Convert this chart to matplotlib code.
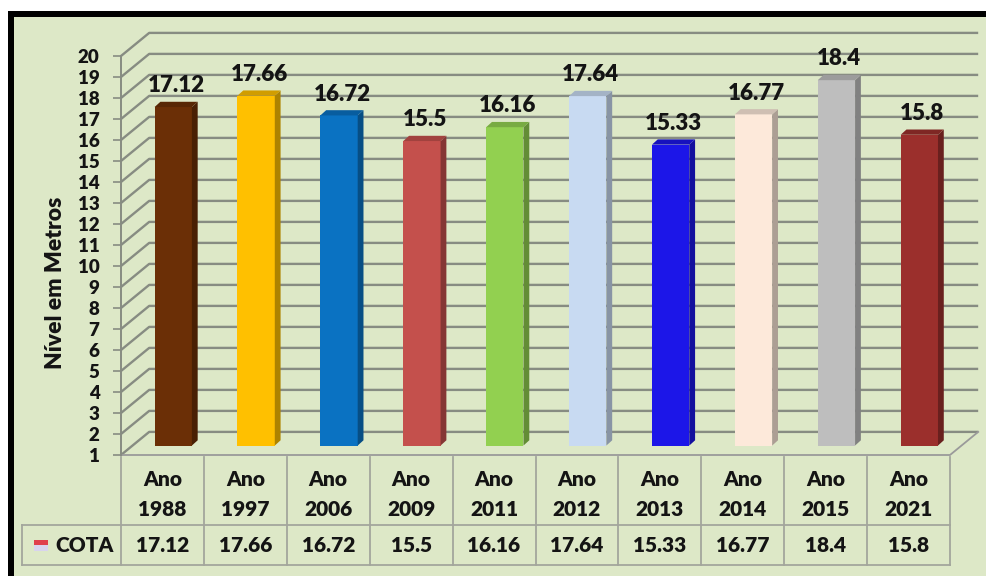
import matplotlib
matplotlib.use("Agg")
import matplotlib.pyplot as plt
from matplotlib.patches import Polygon, Rectangle
from matplotlib.transforms import blended_transform_factory
import matplotlib.colors as mcolors

# --- data ---
years = ["1988", "1997", "2006", "2009", "2011", "2012", "2013", "2014", "2015", "2021"]
values = [17.12, 17.66, 16.72, 15.5, 16.16, 17.64, 15.33, 16.77, 18.4, 15.8]
value_labels = ["17.12", "17.66", "16.72", "15.5", "16.16", "17.64", "15.33", "16.77", "18.4", "15.8"]
bar_colors = ["#6b2f06", "#ffc000", "#0a72c2", "#c4504c", "#92d050",
              "#c8daf2", "#1c16e8", "#fde9da", "#bebebe", "#9b2f2c"]
yticks = list(range(1, 21))
series_name = "COTA"
ylabel = "Nível em Metros"

# --- styling / geometry (pixels of a 986x576 figure) ---
W, H = 986, 576
BG = "#dde8c7"
GRID = "#878c82"
TXT = "#141414"
FONT = "Lato"
WT = "heavy"

DX = 0.34      # depth shift of back wall in category units
DY = 1.1       # depth shift of back wall in value units
BAR_OFF_X = 0.13
BAR_OFF_Y = 0.45
BAR_W = 0.45
SIDE_DX = 0.07
SIDE_DY = 0.25


def darker(c, f):
    r, g, b = mcolors.to_rgb(c)
    return (r * f, g * f, b * f)


def fy(px):
    return 1 - px / H


fig = plt.figure(figsize=(W / 100, H / 100), dpi=100)
fig.patch.set_facecolor("white")

# green panel and black frame (kept behind the axes)
fig.patches.append(Rectangle((14 / W, 0), (W - 14) / W, fy(17), transform=fig.transFigure,
                             facecolor=BG, edgecolor="none", zorder=-10))
fig.patches.append(Rectangle((8 / W, fy(17)), (W - 8) / W, 6 / H, transform=fig.transFigure,
                             facecolor="black", edgecolor="none", zorder=-9))
fig.patches.append(Rectangle((8 / W, 0), 6 / W, fy(11), transform=fig.transFigure,
                             facecolor="black", edgecolor="none", zorder=-9))

ax = fig.add_axes([121 / W, fy(455), (950 - 121) / W, (455 - 56) / H])
ax.set_facecolor("none")
n = len(years)
ax.set_xlim(-0.5, n - 0.5)
ax.set_ylim(1, 20)

# back wall grid and side wall diagonals
x0, x1 = -0.5, n - 0.5
for v in yticks:
    ax.plot([x0, x0 + DX, x1 + DX], [v, v + DY, v + DY], color=GRID, lw=1.7,
            clip_on=False, zorder=1, solid_capstyle="butt")
# floor edges
ax.plot([x0, x1, x1 + DX], [1, 1, 1 + DY], color="#9a9a9a", lw=1.3, clip_on=False, zorder=1)

# bars with fake 3D faces
for i, (v, c) in enumerate(zip(values, bar_colors)):
    left = i - 0.5 + 0.5 - BAR_W / 2 + BAR_OFF_X
    right = left + BAR_W
    bot = 1 + BAR_OFF_Y
    top = v + BAR_OFF_Y
    ax.bar(left + BAR_W / 2, v - 1, bottom=bot, width=BAR_W, color=c, zorder=3,
           clip_on=False, linewidth=0)
    side = Polygon([(right, bot), (right + SIDE_DX, bot + SIDE_DY),
                    (right + SIDE_DX, top + SIDE_DY), (right, top)],
                   closed=True, facecolor=darker(c, 0.68), edgecolor="none",
                   zorder=3, clip_on=False)
    ax.add_patch(side)
    cap = Polygon([(left, top), (right, top), (right + SIDE_DX, top + SIDE_DY),
                   (left + SIDE_DX, top + SIDE_DY)],
                  closed=True, facecolor=darker(c, 0.82), edgecolor="none",
                  zorder=3, clip_on=False)
    ax.add_patch(cap)
    ax.annotate(value_labels[i], xy=((left + right + SIDE_DX) / 2, top + SIDE_DY),
                xytext=(0, 4), textcoords="offset points", ha="center", va="bottom",
                fontsize=16, fontweight=WT, family=FONT, color=TXT,
                annotation_clip=False, zorder=4)

# y axis
for s in ["top", "right", "bottom"]:
    ax.spines[s].set_visible(False)
ax.spines["left"].set_color(GRID)
ax.spines["left"].set_linewidth(1.4)
ax.set_xticks([])
ax.set_yticks(yticks)
ax.set_yticklabels([str(t) for t in yticks], fontsize=13.5, fontweight=WT,
                   family=FONT, color=TXT)
ax.tick_params(axis="y", length=5.5, width=1.2, color=GRID, pad=10)
fig.text(56 / W, fy(283), ylabel, rotation=90, ha="center", va="center",
         fontsize=16.5, fontweight=WT, family=FONT, color=TXT)

# data table below the plot
tr = blended_transform_factory(ax.transData, fig.transFigure)
TB_COL = "#a3a69c"
y_top, y_mid, y_bot = 457, 525, 565
for k in range(n + 1):
    ax.plot([k - 0.5, k - 0.5], [fy(y_top), fy(y_bot)], color=TB_COL, lw=1.3,
            transform=tr, clip_on=False)
label_left = -0.5 - (121 - 22) / 82.9
ax.plot([label_left, x1], [fy(y_mid), fy(y_mid)], color=TB_COL, lw=1.3, transform=tr, clip_on=False)
ax.plot([label_left, x1], [fy(y_bot), fy(y_bot)], color=TB_COL, lw=1.3, transform=tr, clip_on=False)
ax.plot([label_left, label_left], [fy(y_mid), fy(y_bot)], color=TB_COL, lw=1.3,
        transform=tr, clip_on=False)

for i, yr in enumerate(years):
    ax.text(i, fy(479), "Ano", transform=tr, ha="center", va="center",
            fontsize=15, fontweight=WT, family=FONT, color=TXT)
    ax.text(i, fy(510), yr, transform=tr, ha="center", va="center",
            fontsize=15, fontweight=WT, family=FONT, color=TXT)
    ax.text(i, fy(546), value_labels[i], transform=tr, ha="center", va="center",
            fontsize=15, fontweight=WT, family=FONT, color=TXT)

# legend key + series name
fig.patches.append(Rectangle((34 / W, fy(545)), 14 / W, 5 / H, transform=fig.transFigure,
                             facecolor="#e0404c", edgecolor="none"))
fig.patches.append(Rectangle((34 / W, fy(551)), 14 / W, 6 / H, transform=fig.transFigure,
                             facecolor="#d8d4ee", edgecolor="none"))
fig.text(85 / W, fy(546), series_name, ha="center", va="center", fontsize=15,
         fontweight=WT, family=FONT, color=TXT)

fig.savefig("out.png", dpi=100, facecolor=fig.get_facecolor())
